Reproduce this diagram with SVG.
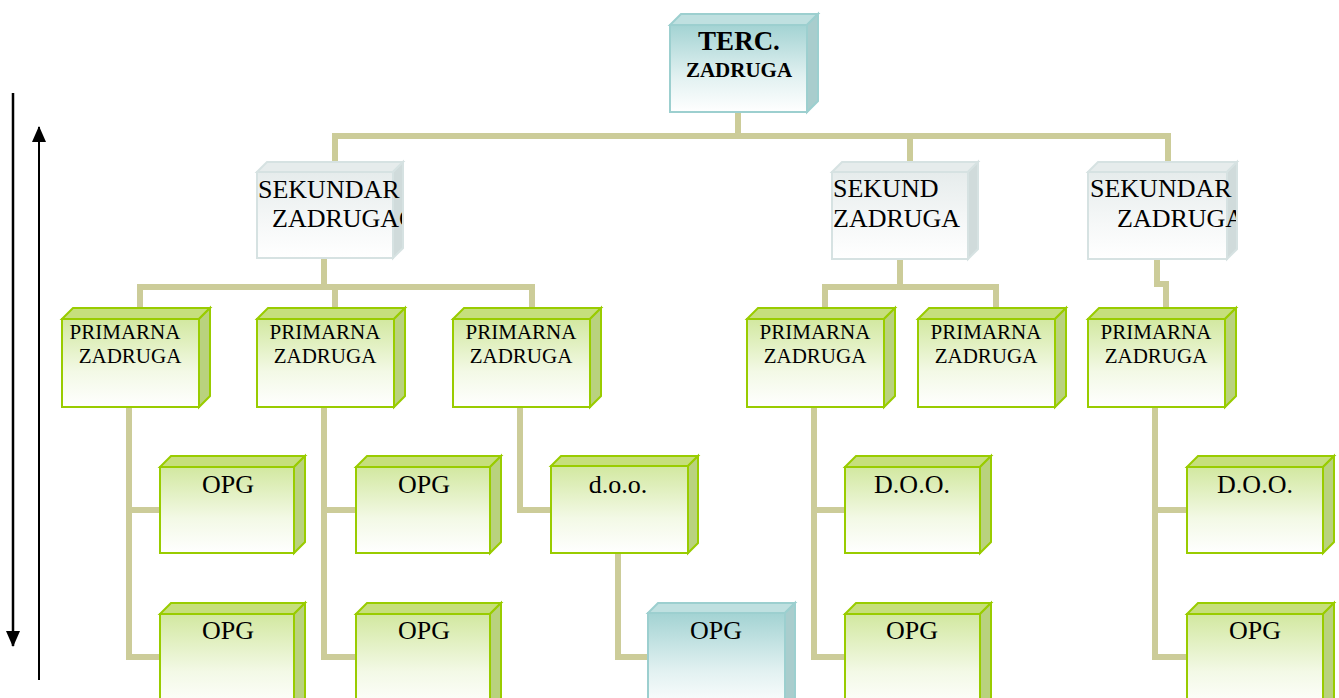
<svg xmlns="http://www.w3.org/2000/svg" width="1339" height="698" viewBox="0 0 1339 698">
<defs>
<linearGradient id="gG" x1="0" y1="0" x2="0" y2="1"><stop offset="0" stop-color="#d2e8a0"/><stop offset="0.6" stop-color="#f3f9e6"/><stop offset="1" stop-color="#ffffff"/></linearGradient>
<linearGradient id="gT" x1="0" y1="0" x2="0" y2="1"><stop offset="0" stop-color="#a3d3d3"/><stop offset="0.6" stop-color="#e2f1f1"/><stop offset="1" stop-color="#ffffff"/></linearGradient>
<linearGradient id="gS" x1="0" y1="0" x2="0" y2="1"><stop offset="0" stop-color="#e6ecec"/><stop offset="0.6" stop-color="#f6f8f8"/><stop offset="1" stop-color="#ffffff"/></linearGradient>
<marker id="ah" markerWidth="16" markerHeight="14" refX="15" refY="7" orient="auto" markerUnits="userSpaceOnUse" viewBox="0 0 16 14"><path d="M0,0 L16,7 L0,14 Z" fill="#000"/></marker>
<clipPath id="c1"><rect x="250" y="160" width="152" height="105"/></clipPath>
<clipPath id="c3"><rect x="1080" y="160" width="156" height="105"/></clipPath>
</defs>
<style>
.g .f{fill:url(#gG);stroke:#99cc00;stroke-width:2}
.g .t{fill:#c6df7c;stroke:#99cc00;stroke-width:2}
.g .s{fill:#b9d27e;stroke:#99cc00;stroke-width:2}
.tl .f{fill:url(#gT);stroke:#9ccfcf;stroke-width:2}
.tl .t{fill:#bfe0e0;stroke:#9ccfcf;stroke-width:2}
.tl .s{fill:#a9cdcd;stroke:#9ccfcf;stroke-width:2}
.sk .f{fill:url(#gS);stroke:#d6e2e2;stroke-width:2}
.sk .t{fill:#e6ecec;stroke:#d6e2e2;stroke-width:2}
.sk .s{fill:#d0dbdb;stroke:#d6e2e2;stroke-width:2}
text{font-family:"Liberation Serif","Times New Roman",serif;fill:#000}
.p{font-size:21px;text-anchor:middle}
.o{font-size:26px;text-anchor:middle}
.sx{font-size:26px}
.con{fill:none;stroke:#cccc99;stroke-width:6;stroke-linejoin:miter;stroke-linecap:butt}
</style>

<g id="connectors">
<path class="con" d="M738,112 V136 M332,136 H1171 M335,136 V163 M910,136 V163 M1168,136 V163"/>
<path class="con" d="M324,258 V287 M137,287 H535 M140,287 V309 M335,287 V309 M532,287 V309"/>
<path class="con" d="M900,259 V287 M822,287 H999 M825,287 V309 M996,287 V309"/>
<path class="con" d="M1157,259 V284 H1166 V309"/>
<path class="con" d="M160,510 H129 V657 H160"/>
<path class="con" d="M356,510 H324 V657 H356"/>
<path class="con" d="M520,407 V510 H551"/>
<path class="con" d="M129,407 V510 M324,407 V510"/>
<path class="con" d="M618,553 V657 H648"/>
<path class="con" d="M814,407 V657 H845 M814,510 H845"/>
<path class="con" d="M1155,407 V657 H1187 M1155,510 H1187"/>
</g>

<g id="arrows">
<line x1="13" y1="93" x2="13" y2="646" stroke="#000" stroke-width="2.5" marker-end="url(#ah)"/>
<line x1="39" y1="680" x2="39" y2="127" stroke="#000" stroke-width="2" marker-end="url(#ah)"/>
</g>

<g id="terc" class="tl">
<polygon class="t" points="670,25 681,14 818,14 807,25"/>
<polygon class="s" points="807,25 818,14 818,101 807,112"/>
<rect class="f" x="670" y="25" width="137" height="87"/>
<text x="739" y="50" font-size="27" font-weight="bold" text-anchor="middle">TERC.</text>
<text x="739" y="77" font-size="21" font-weight="bold" text-anchor="middle">ZADRUGA</text>
</g>

<g id="sek1" class="sk">
<polygon class="t" points="257,172 267,162 403,162 393,172"/>
<polygon class="s" points="393,172 403,162 403,248 393,258"/>
<rect class="f" x="257" y="172" width="136" height="86"/>
<g clip-path="url(#c1)"><text class="sx" x="258" y="198">SEKUNDAR</text><text class="sx" x="272" y="227">ZADRUGAC</text></g>
</g>

<g id="sek2" class="sk">
<polygon class="t" points="832,172 842,162 978,162 968,172"/>
<polygon class="s" points="968,172 978,162 978,249 968,259"/>
<rect class="f" x="832" y="172" width="136" height="87"/>
<text class="sx" x="833" y="197">SEKUND</text><text class="sx" x="833" y="227">ZADRUGA</text>
</g>

<g id="sek3" class="sk">
<polygon class="t" points="1088,172 1098,162 1237,162 1227,172"/>
<polygon class="s" points="1227,172 1237,162 1237,249 1227,259"/>
<rect class="f" x="1088" y="172" width="139" height="87"/>
<g clip-path="url(#c3)"><text class="sx" x="1090" y="197">SEKUNDAR</text><text class="sx" x="1117" y="227">ZADRUGA</text></g>
</g>

<g id="prim1" class="g">
<polygon class="t" points="62,319 73,308 210,308 199,319"/><polygon class="s" points="199,319 210,308 210,396 199,407"/>
<rect class="f" x="62" y="319" width="137" height="88"/>
<text class="p" x="125" y="339">PRIMARNA</text><text class="p" x="130" y="363">ZADRUGA</text>
</g>
<g id="prim2" class="g">
<polygon class="t" points="257,319 268,308 405,308 394,319"/><polygon class="s" points="394,319 405,308 405,396 394,407"/>
<rect class="f" x="257" y="319" width="137" height="88"/>
<text class="p" x="325" y="339">PRIMARNA</text><text class="p" x="325" y="363">ZADRUGA</text>
</g>
<g id="prim3" class="g">
<polygon class="t" points="453,319 464,308 601,308 590,319"/><polygon class="s" points="590,319 601,308 601,396 590,407"/>
<rect class="f" x="453" y="319" width="137" height="88"/>
<text class="p" x="521" y="339">PRIMARNA</text><text class="p" x="521" y="363">ZADRUGA</text>
</g>
<g id="prim4" class="g">
<polygon class="t" points="747,319 758,308 895,308 884,319"/><polygon class="s" points="884,319 895,308 895,396 884,407"/>
<rect class="f" x="747" y="319" width="137" height="88"/>
<text class="p" x="815" y="339">PRIMARNA</text><text class="p" x="815" y="363">ZADRUGA</text>
</g>
<g id="prim5" class="g">
<polygon class="t" points="918,319 929,308 1066,308 1055,319"/><polygon class="s" points="1055,319 1066,308 1066,396 1055,407"/>
<rect class="f" x="918" y="319" width="137" height="88"/>
<text class="p" x="986" y="339">PRIMARNA</text><text class="p" x="986" y="363">ZADRUGA</text>
</g>
<g id="prim6" class="g">
<polygon class="t" points="1088,319 1099,308 1236,308 1225,319"/><polygon class="s" points="1225,319 1236,308 1236,396 1225,407"/>
<rect class="f" x="1088" y="319" width="137" height="88"/>
<text class="p" x="1156" y="339">PRIMARNA</text><text class="p" x="1156" y="363">ZADRUGA</text>
</g>

<g id="opg1a" class="g">
<polygon class="t" points="160,467 171,456 305,456 294,467"/><polygon class="s" points="294,467 305,456 305,542 294,553"/>
<rect class="f" x="160" y="467" width="134" height="86"/><text class="o" x="228" y="493">OPG</text>
</g>
<g id="opg1b" class="g">
<polygon class="t" points="160,614 171,603 305,603 294,614"/><polygon class="s" points="294,614 305,603 305,710 294,710"/>
<rect class="f" x="160" y="614" width="134" height="96"/><text class="o" x="228" y="639">OPG</text>
</g>
<g id="opg2a" class="g">
<polygon class="t" points="356,467 367,456 501,456 490,467"/><polygon class="s" points="490,467 501,456 501,542 490,553"/>
<rect class="f" x="356" y="467" width="134" height="86"/><text class="o" x="424" y="493">OPG</text>
</g>
<g id="opg2b" class="g">
<polygon class="t" points="356,614 367,603 501,603 490,614"/><polygon class="s" points="490,614 501,603 501,710 490,710"/>
<rect class="f" x="356" y="614" width="134" height="96"/><text class="o" x="424" y="639">OPG</text>
</g>
<g id="doo3" class="g">
<polygon class="t" points="551,466 561,456 698,456 688,466"/><polygon class="s" points="688,466 698,456 698,543 688,553"/>
<rect class="f" x="551" y="466" width="137" height="87"/><text class="o" x="618" y="493">d.o.o.</text>
</g>
<g id="opg3" class="tl">
<polygon class="t" points="648,613 658,603 795,603 785,613"/><polygon class="s" points="785,613 795,603 795,710 785,710"/>
<rect class="f" x="648" y="613" width="137" height="97"/><text class="o" x="716" y="639">OPG</text>
</g>
<g id="doo4" class="g">
<polygon class="t" points="845,467 856,456 991,456 980,467"/><polygon class="s" points="980,467 991,456 991,542 980,553"/>
<rect class="f" x="845" y="467" width="135" height="86"/><text class="o" x="912" y="493">D.O.O.</text>
</g>
<g id="opg4" class="g">
<polygon class="t" points="845,614 856,603 991,603 980,614"/><polygon class="s" points="980,614 991,603 991,710 980,710"/>
<rect class="f" x="845" y="614" width="135" height="96"/><text class="o" x="912" y="639">OPG</text>
</g>
<g id="doo6" class="g">
<polygon class="t" points="1187,467 1198,456 1334,456 1323,467"/><polygon class="s" points="1323,467 1334,456 1334,542 1323,553"/>
<rect class="f" x="1187" y="467" width="136" height="86"/><text class="o" x="1255" y="493">D.O.O.</text>
</g>
<g id="opg6" class="g">
<polygon class="t" points="1187,614 1198,603 1334,603 1323,614"/><polygon class="s" points="1323,614 1334,603 1334,710 1323,710"/>
<rect class="f" x="1187" y="614" width="136" height="96"/><text class="o" x="1255" y="639">OPG</text>
</g>
</svg>
